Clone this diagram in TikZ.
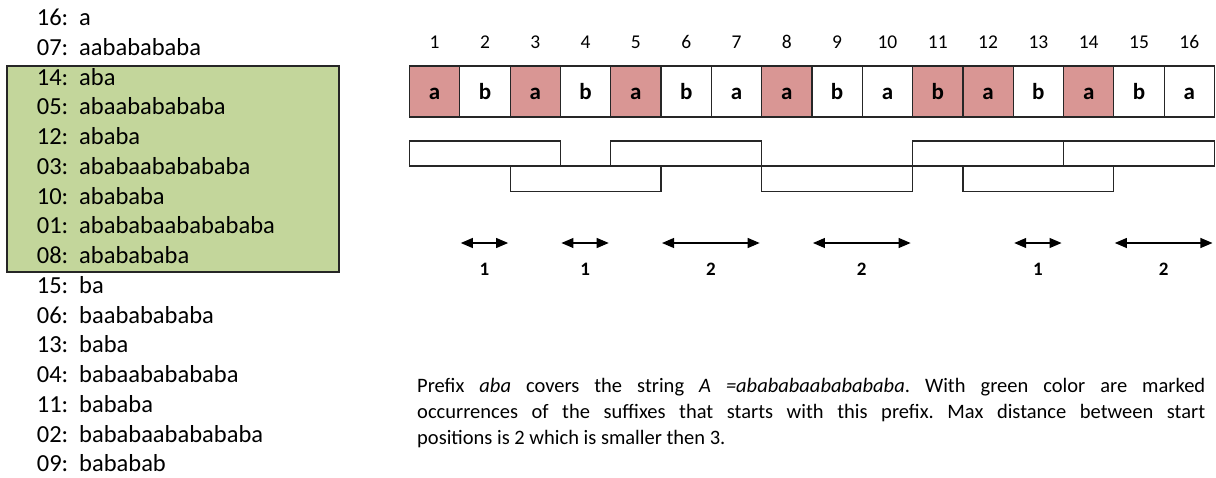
\documentclass[tikz,border=0pt]{standalone}
\usepackage{fontspec}
\setmainfont{Carlito}
\usetikzlibrary{arrows.meta,calc}
\definecolor{greenfill}{HTML}{C3D69B}
\definecolor{redfill}{HTML}{D99694}
\definecolor{edge}{HTML}{262626}
\frenchspacing
\tikzset{
  listtext/.style={anchor=base west, inner sep=0pt, font=\fontsize{24.5}{30}\selectfont},
  greenbox/.style={fill=greenfill, draw=edge, line width=1.3pt},
  cell/.style={draw=edge, line width=1.2pt, minimum width=50.31pt, minimum height=51pt,
    inner sep=0pt, outer sep=0pt, text height=15.5pt, text depth=0pt,
    font=\fontsize{23}{27}\selectfont\bfseries},
  posnum/.style={anchor=base, inner sep=0pt, font=\fontsize{19.5}{23}\selectfont},
  cover/.style={draw=edge, line width=1.2pt},
  dist/.style={line width=1.1pt, {Triangle[length=12pt,width=10pt]}-{Triangle[length=12pt,width=10pt]}},
  distlabel/.style={anchor=base, inner sep=0pt, font=\fontsize{19}{23}\selectfont\bfseries},
  captionline/.style={anchor=base west, inner sep=0pt, font=\fontsize{20.5}{26}\selectfont}
}
\begin{document}
\begin{tikzpicture}[x=1pt,y=-1pt]
\useasboundingbox (0,0) rectangle (1216,477);
% green highlight box
\draw[greenbox] (7,66) rectangle (339,272);
% sorted suffix list
\foreach \i/\n/\s in {1/16/a,2/07/aababababa,3/14/aba,4/05/abaababababa,5/12/ababa,
  6/03/ababaababababa,7/10/abababa,8/01/abababaababababa,9/08/ababababa,10/15/ba,
  11/06/baababababa,12/13/baba,13/04/babaababababa,14/11/bababa,15/02/bababaababababa,16/09/bababab}{
  \node[listtext] (n\i) at (36.7,{25.5+29.75*(\i-1)}) {\n:};
  \node[listtext] (s\i) at (79,{25.5+29.75*(\i-1)}) {\s};
}
% string cells
\foreach \i/\c/\f in {1/a/redfill,2/b/white,3/a/redfill,4/b/white,5/a/redfill,6/b/white,
  7/a/white,8/a/redfill,9/b/white,10/a/white,11/b/redfill,12/a/redfill,13/b/white,
  14/a/redfill,15/b/white,16/a/white}{
  \node[cell, fill=\f] (c\i) at ({409.5+50.31*(\i-0.5)},91.5) {\c};
  \node[posnum] (p\i) at ({409.5+50.31*(\i-0.5)},48) {\i};
}
% cover intervals
\coordinate (u1) at (0,141);
\coordinate (u2) at (0,166);
\coordinate (u3) at (0,191.7);
\draw[cover] (c1.west |- u1) rectangle (c3.east |- u2);
\draw[cover] (c5.west |- u1) rectangle (c7.east |- u2);
\draw[cover] (c11.west |- u1) rectangle (c13.east |- u2);
\draw[cover] (c14.west |- u1) rectangle (c16.east |- u2);
\draw[cover] (c3.west |- u2) rectangle (c5.east |- u3);
\draw[cover] (c8.west |- u2) rectangle (c10.east |- u3);
\draw[cover] (c12.west |- u2) rectangle (c14.east |- u3);
% distance arrows
\coordinate (ay) at (0,243);
\foreach \k/\l/\r/\v in {1/2/2/1,2/4/4/1,3/6/7/2,4/9/10/2,5/13/13/1,6/15/16/2}{
  \coordinate (a\k) at ($(c\l.west |- ay)+(1,0)$);
  \coordinate (b\k) at ($(c\r.east |- ay)+(-2,0)$);
  \draw[dist] (a\k) -- (b\k);
  \node[distlabel] (d\k) at ($(a\k)!0.5!(b\k)+(0,32)$) {\v};
}
% caption
\node[captionline] (cap1) at (417,392) {\makebox[788pt][s]{Prefix \emph{aba} covers the string \emph{A =abababaababababa}. With green color are marked}};
\node[captionline] (cap2) at (417,418) {\makebox[788pt][s]{occurrences of the suffixes that starts with this prefix. Max distance between start}};
\node[captionline] (cap3) at (417,444) {positions is 2 which is smaller then 3.};
\end{tikzpicture}
\end{document}
